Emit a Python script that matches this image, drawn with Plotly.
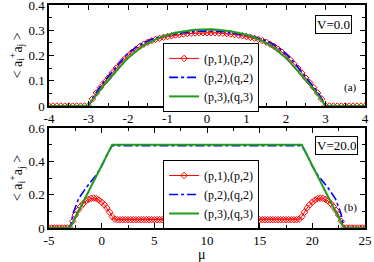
import numpy as np
import plotly.graph_objects as go

# ---------------- data: panel (a), V=0.0 ----------------
mu_top = np.round(np.arange(-4.0, 4.0001, 0.1), 2)

red_top = [0, 0, 0, 0, 0, 0, 0, 0, 0, 0,
           0.000, 0.028, 0.052, 0.073, 0.093, 0.111, 0.131, 0.150, 0.167, 0.184,
           0.199, 0.213, 0.225, 0.236, 0.245, 0.253, 0.259, 0.264, 0.268, 0.272,
           0.275, 0.278, 0.281, 0.283, 0.285, 0.287, 0.288, 0.289, 0.290, 0.290, 0.290,
           0.290, 0.290, 0.289, 0.288, 0.287, 0.285, 0.283, 0.281, 0.278, 0.275,
           0.272, 0.268, 0.264, 0.259, 0.253, 0.245, 0.236, 0.225, 0.213, 0.199,
           0.184, 0.167, 0.150, 0.131, 0.111, 0.093, 0.073, 0.052, 0.028, 0.000,
           0, 0, 0, 0, 0, 0, 0, 0, 0, 0]

blue_top = [0, 0, 0, 0, 0, 0, 0, 0, 0, 0,
            0.000, 0.030, 0.056, 0.078, 0.098, 0.117, 0.136, 0.155, 0.174, 0.192,
            0.207, 0.220, 0.232, 0.242, 0.251, 0.258, 0.264, 0.269, 0.273, 0.277,
            0.280, 0.283, 0.286, 0.288, 0.290, 0.292, 0.294, 0.295, 0.296, 0.297, 0.297,
            0.297, 0.296, 0.295, 0.294, 0.292, 0.290, 0.288, 0.286, 0.283, 0.280,
            0.277, 0.273, 0.269, 0.264, 0.258, 0.251, 0.242, 0.232, 0.220, 0.207,
            0.192, 0.174, 0.155, 0.136, 0.117, 0.098, 0.078, 0.056, 0.030, 0.000,
            0, 0, 0, 0, 0, 0, 0, 0, 0, 0]

green_top = [0, 0, 0, 0, 0, 0, 0, 0, 0, 0,
             0.000, 0.024, 0.046, 0.066, 0.085, 0.102, 0.121, 0.139, 0.157, 0.174,
             0.190, 0.204, 0.217, 0.229, 0.240, 0.249, 0.257, 0.264, 0.271, 0.277,
             0.282, 0.286, 0.290, 0.293, 0.296, 0.298, 0.300, 0.302, 0.303, 0.304, 0.304,
             0.304, 0.303, 0.302, 0.300, 0.298, 0.296, 0.293, 0.290, 0.286, 0.282,
             0.277, 0.271, 0.264, 0.257, 0.249, 0.240, 0.229, 0.217, 0.204, 0.190,
             0.174, 0.157, 0.139, 0.121, 0.102, 0.085, 0.066, 0.046, 0.024, 0.000,
             0, 0, 0, 0, 0, 0, 0, 0, 0, 0]

# ---------------- data: panel (b), V=20.0 ----------------
mu_bot = np.round(np.arange(-5.0, 25.0001, 0.25), 2)

red_bot = [0, 0, 0, 0, 0, 0, 0, 0,
           0.000, 0.040, 0.078, 0.106, 0.128, 0.147, 0.162, 0.172, 0.178, 0.180,
           0.177, 0.168, 0.155, 0.140, 0.120, 0.095, 0.068, 0.053, 0.050,
           0.050, 0.050, 0.050, 0.050, 0.050, 0.050, 0.050, 0.050, 0.050, 0.050,
           0.050, 0.050, 0.050, 0.050, 0.050, 0.050, 0.050, 0.050, 0.050, 0.050,
           0.050, 0.050, 0.050, 0.050, 0.050, 0.050, 0.050, 0.050, 0.050, 0.050,
           0.050, 0.050, 0.050, 0.050, 0.050, 0.050, 0.050, 0.050, 0.050, 0.050,
           0.050, 0.050, 0.050, 0.050, 0.050, 0.050, 0.050, 0.050, 0.050, 0.050,
           0.050, 0.050, 0.050, 0.050, 0.050, 0.050, 0.050, 0.050, 0.050, 0.050,
           0.050, 0.050, 0.050, 0.050, 0.050, 0.050, 0.050,
           0.050, 0.053, 0.068, 0.095, 0.120, 0.140, 0.155, 0.168, 0.177, 0.180,
           0.178, 0.172, 0.162, 0.147, 0.128, 0.106, 0.078, 0.040, 0.000,
           0, 0, 0, 0, 0, 0, 0, 0]

mu_blue_bot = [-5, -3.0, -2.7, -2.2, -1.5, -0.5, 0.0, 0.5, 1.0,
               19.0, 19.5, 20.0, 20.5, 21.5, 22.2, 22.7, 23.0, 25]
blue_bot = [0, 0.000, 0.090, 0.175, 0.240, 0.320, 0.370, 0.440, 0.495,
            0.495, 0.440, 0.370, 0.320, 0.240, 0.175, 0.090, 0.000, 0]

mu_green_bot = [-5, -3.0, 1.0, 19.0, 23.0, 25]
green_bot = [0, 0.0, 0.5, 0.5, 0.0, 0]

names = ["(p,1),(p,2)", "(p,2),(q,2)", "(p,3),(q,3)"]
xt_top = [-4, -3, -2, -1, 0, 1, 2, 3, 4]
xt_top_text = ["-4", "-3", "-2", "-1", "0", "1", "2", "3", "4"]
yt_top = [0, 0.1, 0.2, 0.3, 0.4]
yt_top_text = ["0", "0.1", "0.2", "0.3", "0.4"]
xt_bot = [-5, 0, 5, 10, 15, 20, 25]
xt_bot_text = ["-5", "0", "5", "10", "15", "20", "25"]
yt_bot = [0, 0.2, 0.4, 0.6]
yt_bot_text = ["0", "0.2", "0.4", "0.6"]

RED = "#ff0000"
BLUE = "#0000ff"
GREEN = "#1e9e1e"
FONT = "Liberation Serif, Times New Roman, Times, serif"

fig = go.Figure()

def add_set(xs, ys, xa, ya, leg):
    (xr, xb, xg), (yr, yb, yg) = xs, ys
    fig.add_trace(go.Scatter(x=xr, y=yr, name=names[0], mode="lines+markers",
                             line=dict(color=RED, width=1),
                             marker=dict(symbol="diamond-open", size=5, color=RED,
                                         line=dict(width=1, color=RED)),
                             xaxis=xa, yaxis=ya, legend=leg))
    fig.add_trace(go.Scatter(x=xb, y=yb, name=names[1], mode="lines",
                             line=dict(color=BLUE, width=1.6, dash="dashdot"),
                             xaxis=xa, yaxis=ya, legend=leg))
    fig.add_trace(go.Scatter(x=xg, y=yg, name=names[2], mode="lines",
                             line=dict(color=GREEN, width=2),
                             xaxis=xa, yaxis=ya, legend=leg))

add_set((mu_top, mu_top, mu_top), (red_top, blue_top, green_top), "x", "y", "legend")
add_set((mu_bot, mu_blue_bot, mu_green_bot), (red_bot, blue_bot, green_bot), "x2", "y2", "legend2")

axis_common = dict(showline=True, linecolor="black", linewidth=1.5, mirror="allticks",
                   ticks="inside", ticklen=5, tickwidth=1, tickcolor="black",
                   showgrid=False, zeroline=False, automargin=False,
                   ticklabeloverflow="allow",
                   tickfont=dict(family=FONT, size=13, color="black"))

ytitle = "< a<sub>i</sub><sup>+</sup>a<sub>j</sub> >"

def ann(text, x, y, size, **kw):
    d = dict(text=text, xref="paper", yref="paper", x=x, y=y, xanchor="center",
             yanchor="middle", showarrow=False, font=dict(family=FONT, size=size))
    d.update(kw)
    return d

fig.update_layout(
    width=374, height=262,
    margin=dict(l=49, r=9, t=5, b=34),
    paper_bgcolor="white", plot_bgcolor="white",
    font=dict(family=FONT, size=12, color="black"),
    xaxis=dict(domain=[0, 1], anchor="y", range=[-4, 4], tickvals=xt_top, ticktext=xt_top_text,
               minor=dict(dtick=0.5, ticks="inside", ticklen=3, tickcolor="black"), **axis_common),
    yaxis=dict(domain=[0.547, 1], anchor="x", range=[0, 0.4], tickvals=yt_top, ticktext=yt_top_text,
               minor=dict(dtick=0.05, ticks="inside", ticklen=3, tickcolor="black"), **axis_common),
    xaxis2=dict(domain=[0, 1], anchor="y2", range=[-5, 25], tickvals=xt_bot, ticktext=xt_bot_text,
                minor=dict(dtick=2.5, ticks="inside", ticklen=3, tickcolor="black"), **axis_common),
    yaxis2=dict(domain=[0, 0.448], anchor="x2", range=[0, 0.6], tickvals=yt_bot, ticktext=yt_bot_text,
                minor=dict(dtick=0.1, ticks="inside", ticklen=3, tickcolor="black"), **axis_common),
    legend=dict(x=0.361, y=0.83, xanchor="left", yanchor="top", bgcolor="white",
                bordercolor="black", borderwidth=1, font=dict(family=FONT, size=12),
                tracegroupgap=0, itemwidth=30),
    legend2=dict(x=0.361, y=0.305, xanchor="left", yanchor="top", bgcolor="white",
                 bordercolor="black", borderwidth=1, font=dict(family=FONT, size=12),
                 tracegroupgap=0, itemwidth=30),
    annotations=[
        ann(ytitle, -0.101, 0.774, 14, textangle=-90),
        ann(ytitle, -0.101, 0.224, 14, textangle=-90),
        ann("μ", 0.484, -0.119, 14),
        ann("V=0.0", 0.900, 0.913, 13, bordercolor="black", borderwidth=1,
            borderpad=1, bgcolor="white"),
        ann("V=20.0", 0.910, 0.368, 13, bordercolor="black", borderwidth=1,
            borderpad=1, bgcolor="white"),
        ann("(a)", 0.953, 0.628, 11),
        ann("(b)", 0.953, 0.094, 11),
    ],
    showlegend=True,
)

fig.write_html("out.html", config={"displayModeBar": False},
               post_script="document.body.style.margin='0px';document.body.style.padding='0px';")
